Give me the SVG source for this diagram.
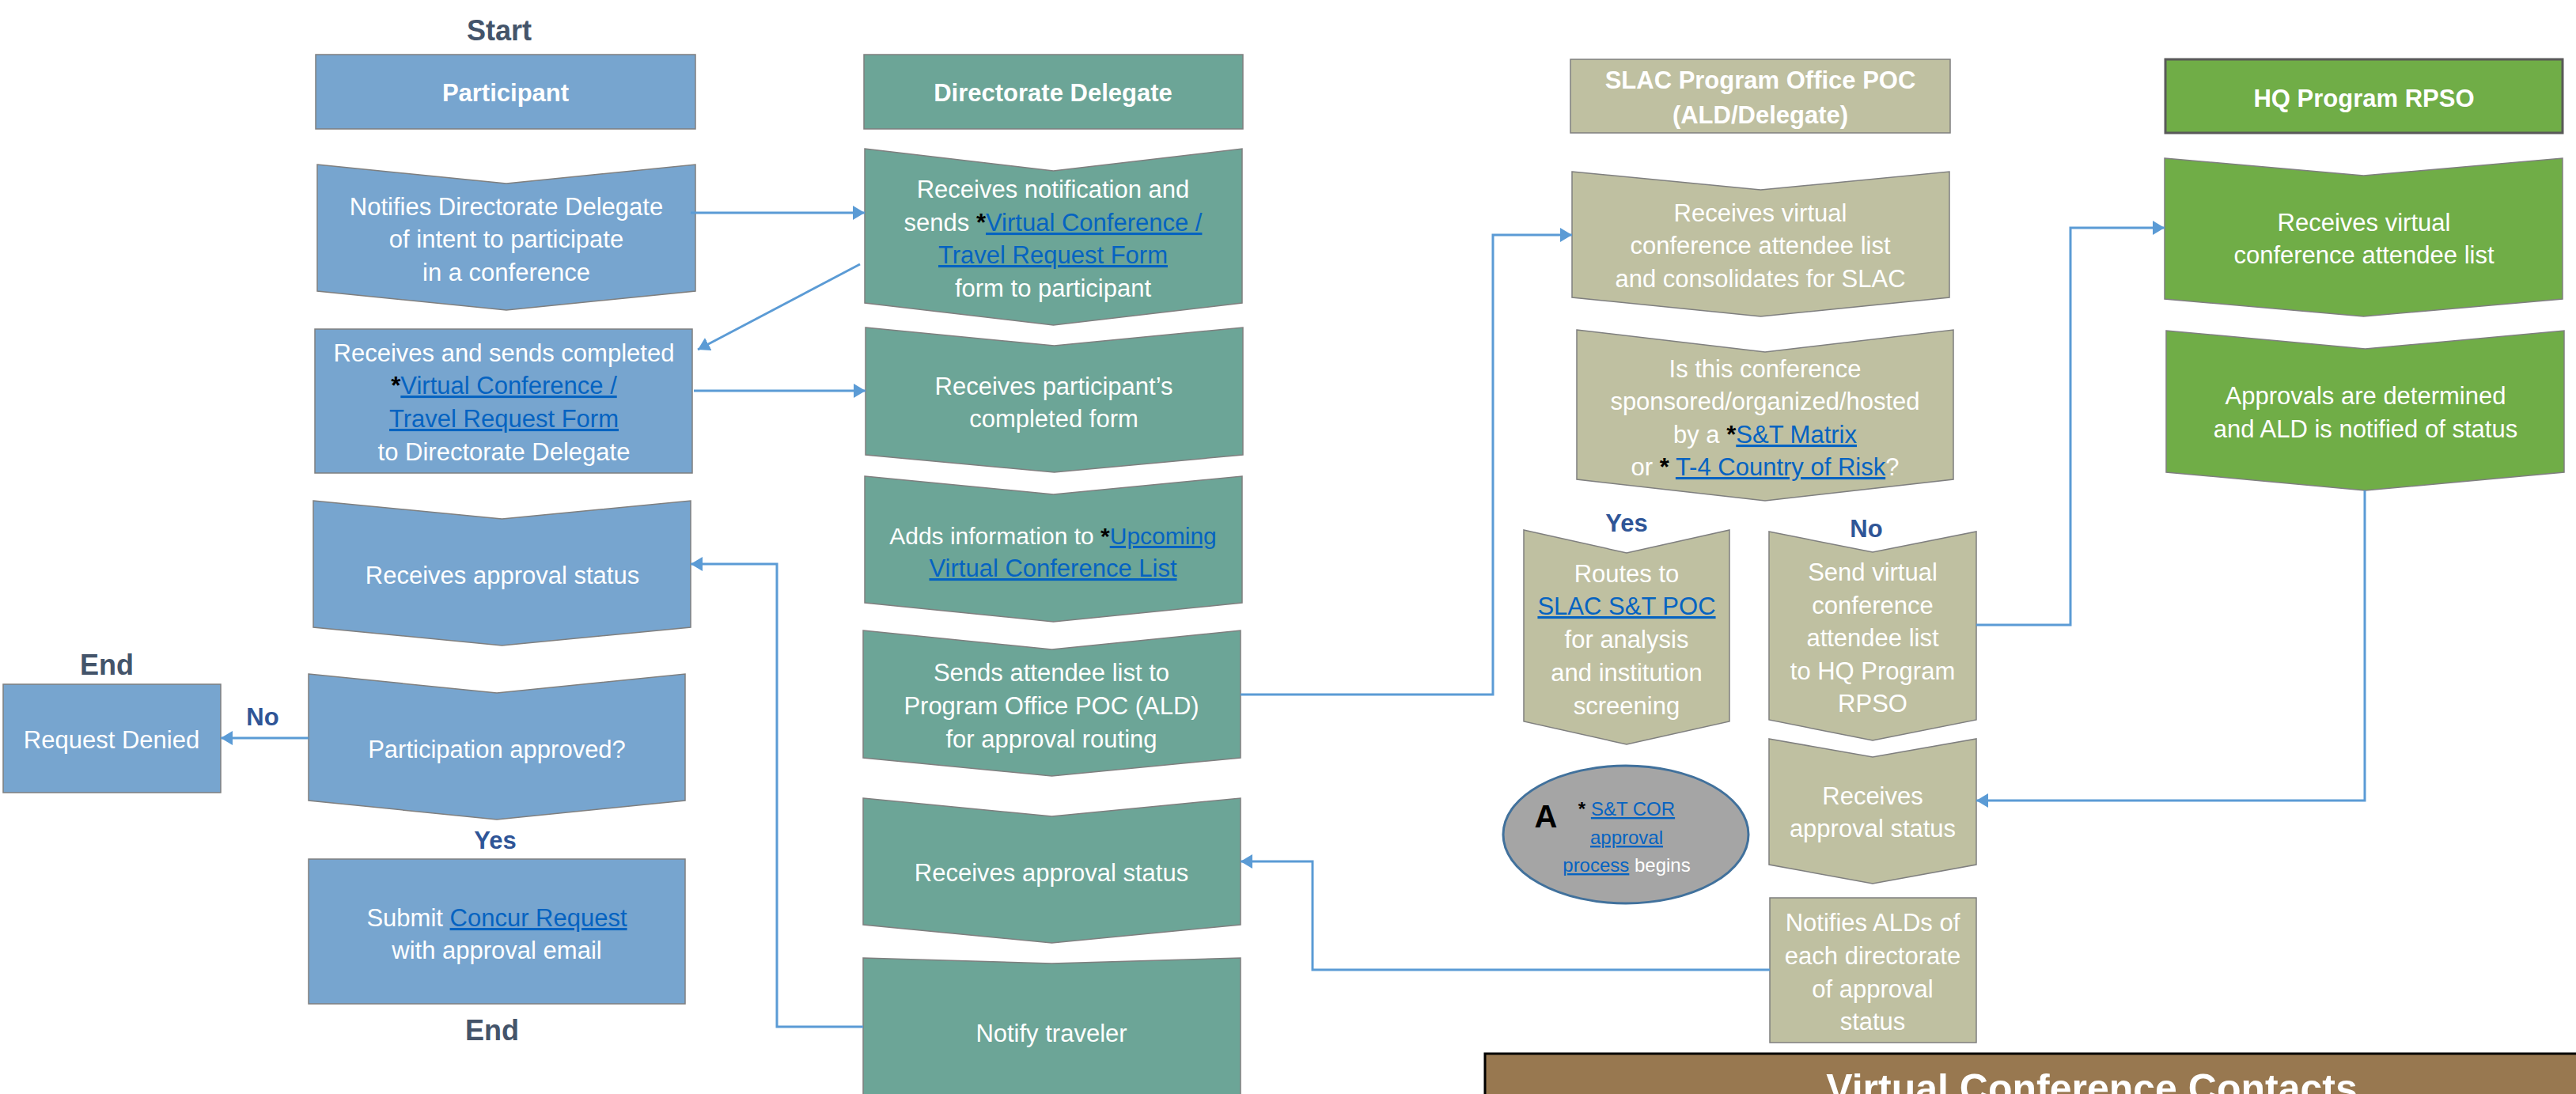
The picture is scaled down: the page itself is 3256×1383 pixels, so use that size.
<svg xmlns="http://www.w3.org/2000/svg" width="3256" height="1383" viewBox="0 0 3256 1383">
<defs>
<marker id="ah" markerUnits="userSpaceOnUse" markerWidth="16" markerHeight="18" refX="15" refY="9" orient="auto">
<path d="M0,0 L15,9 L0,18 Z" fill="#5B9BD5"/>
</marker>
<style>
.t{font-family:"Liberation Sans",Arial,sans-serif;font-size:31px;fill:#FFFFFF;text-anchor:middle}
.h{font-family:"Liberation Sans",Arial,sans-serif;font-size:31px;font-weight:bold;fill:#FFFFFF;text-anchor:middle}
.se{font-family:"Liberation Sans",Arial,sans-serif;font-size:36px;font-weight:bold;fill:#44546A;text-anchor:middle}
.yn{font-family:"Liberation Sans",Arial,sans-serif;font-size:31px;font-weight:bold;fill:#2F5597;text-anchor:middle}
.lk{fill:#0563C1;text-decoration:underline}
.ast{fill:#000000;font-weight:bold}
.blue{fill:#77A5CF;stroke:#7F7F7F;stroke-width:1.5}
.teal{fill:#6CA597;stroke:#7F7F7F;stroke-width:1.5}
.khaki{fill:#BFC0A1;stroke:#7F7F7F;stroke-width:1.5}
.green{fill:#70AD47;stroke:#7F7F7F;stroke-width:1.5}
.conn{fill:none;stroke:#5B9BD5;stroke-width:3}
</style>
</defs>
<rect x="0" y="0" width="3256" height="1383" fill="#FFFFFF"/>

<g id="labels">
<text class="se" x="631" y="51">Start</text>
<text class="se" x="135" y="853">End</text>
<text class="se" x="622" y="1315">End</text>
<text class="yn" x="332" y="917">No</text>
<text class="yn" x="626" y="1073">Yes</text>
<text class="yn" x="2056" y="672">Yes</text>
<text class="yn" x="2359" y="679">No</text>
</g>

<g id="participant-header">
<rect class="blue" x="399" y="69" width="480" height="94"/>
<text class="h" x="639" y="128">Participant</text>
</g>
<g id="p-notifies">
<path class="blue" d="M401 208 L640 232 L879 208 L879 368 L640 392 L401 368 Z"/>
<text class="t" x="640" y="272">Notifies Directorate Delegate</text>
<text class="t" x="640" y="313">of intent to participate</text>
<text class="t" x="640" y="355">in a conference</text>
</g>
<g id="p-sends-form">
<rect class="blue" x="398" y="416" width="477" height="182"/>
<text class="t" x="637" y="457">Receives and sends completed</text>
<text class="t" x="637" y="498"><tspan class="ast">*</tspan><tspan class="lk">Virtual Conference /</tspan></text>
<text class="t" x="637" y="540"><tspan class="lk">Travel Request Form</tspan></text>
<text class="t" x="637" y="582">to Directorate Delegate</text>
</g>
<g id="p-receives-status">
<path class="blue" d="M396 633 L634.5 656 L873 633 L873 793 L634.5 816 L396 793 Z"/>
<text class="t" x="635" y="738">Receives approval status</text>
</g>
<g id="p-approved">
<path class="blue" d="M390 852 L628 876 L866 852 L866 1012 L628 1036 L390 1012 Z"/>
<text class="t" x="628" y="958">Participation approved?</text>
</g>
<g id="p-denied">
<rect class="blue" x="4" y="865" width="275" height="137"/>
<text class="t" x="141" y="946">Request Denied</text>
</g>
<g id="p-concur">
<rect class="blue" x="390" y="1086" width="476" height="183"/>
<text class="t" x="628" y="1171">Submit <tspan class="lk">Concur Request</tspan></text>
<text class="t" x="628" y="1212">with approval email</text>
</g>

<g id="dd-header">
<rect class="teal" x="1092" y="69" width="479" height="94"/>
<text class="h" x="1331" y="128">Directorate Delegate</text>
</g>
<g id="dd-receives-notification">
<path class="teal" d="M1093 188 L1331.5 216 L1570 188 L1570 383 L1331.5 411 L1093 383 Z"/>
<text class="t" x="1331" y="250">Receives notification and</text>
<text class="t" x="1331" y="292">sends <tspan class="ast">*</tspan><tspan class="lk">Virtual Conference /</tspan></text>
<text class="t" x="1331" y="333"><tspan class="lk">Travel Request Form</tspan></text>
<text class="t" x="1331" y="375">form to participant</text>
</g>
<g id="dd-receives-form">
<path class="teal" d="M1094 414 L1332.5 437 L1571 414 L1571 575 L1332.5 597 L1094 575 Z"/>
<text class="t" x="1332" y="499">Receives participant’s</text>
<text class="t" x="1332" y="540">completed form</text>
</g>
<g id="dd-adds-info">
<path class="teal" d="M1093 602 L1331.5 625 L1570 602 L1570 762 L1331.5 786 L1093 762 Z"/>
<text class="t" x="1331" y="688" style="font-size:30px">Adds information to <tspan class="ast">*</tspan><tspan class="lk">Upcoming</tspan></text>
<text class="t" x="1331" y="729"><tspan class="lk">Virtual Conference List</tspan></text>
</g>
<g id="dd-sends-list">
<path class="teal" d="M1091 797 L1329.5 821 L1568 797 L1568 958 L1329.5 981 L1091 958 Z"/>
<text class="t" x="1329" y="861">Sends attendee list to</text>
<text class="t" x="1329" y="903">Program Office POC (ALD)</text>
<text class="t" x="1329" y="945">for approval routing</text>
</g>
<g id="dd-receives-status">
<path class="teal" d="M1091 1009 L1329.5 1032 L1568 1009 L1568 1169 L1329.5 1192 L1091 1169 Z"/>
<text class="t" x="1329" y="1114">Receives approval status</text>
</g>
<g id="dd-notify">
<path class="teal" d="M1091 1211 L1329.5 1218 L1568 1211 L1568 1400 L1091 1400 Z"/>
<text class="t" x="1329" y="1317">Notify traveler</text>
</g>

<g id="slac-header">
<rect class="khaki" x="1985" y="75" width="480" height="93"/>
<text class="h" x="2225" y="112">SLAC Program Office POC</text>
<text class="h" x="2225" y="156">(ALD/Delegate)</text>
</g>
<g id="slac-receives">
<path class="khaki" d="M1987 217 L2225.5 240 L2464 217 L2464 376 L2225.5 400 L1987 376 Z"/>
<text class="t" x="2225" y="280">Receives virtual</text>
<text class="t" x="2225" y="321">conference attendee list</text>
<text class="t" x="2225" y="363">and consolidates for SLAC</text>
</g>
<g id="slac-question">
<path class="khaki" d="M1993 417 L2231 445 L2469 417 L2469 606 L2231 633 L1993 606 Z"/>
<text class="t" x="2231" y="477">Is this conference</text>
<text class="t" x="2231" y="518">sponsored/organized/hosted</text>
<text class="t" x="2231" y="560">by a <tspan class="ast">*</tspan><tspan class="lk">S&amp;T Matrix</tspan></text>
<text class="t" x="2231" y="601">or <tspan class="ast">*</tspan> <tspan class="lk">T-4 Country of Risk</tspan>?</text>
</g>
<g id="slac-routes">
<path class="khaki" d="M1926 670 L2056 699 L2186 670 L2186 912 L2056 941 L1926 912 Z"/>
<text class="t" x="2056" y="736">Routes to</text>
<text class="t" x="2056" y="777"><tspan class="lk">SLAC S&amp;T POC</tspan></text>
<text class="t" x="2056" y="819">for analysis</text>
<text class="t" x="2056" y="861">and institution</text>
<text class="t" x="2056" y="903">screening</text>
</g>
<g id="slac-send">
<path class="khaki" d="M2236 672 L2367 698 L2498 672 L2498 910 L2367 936 L2236 910 Z"/>
<text class="t" x="2367" y="734">Send virtual</text>
<text class="t" x="2367" y="776">conference</text>
<text class="t" x="2367" y="817">attendee list</text>
<text class="t" x="2367" y="859">to HQ Program</text>
<text class="t" x="2367" y="900">RPSO</text>
</g>
<g id="slac-cor">
<ellipse cx="2055" cy="1055" rx="155" ry="87" fill="#A5A5A5" stroke="#41719C" stroke-width="3"/>
<text x="1954" y="1046" style="font-family:'Liberation Sans',Arial,sans-serif;font-size:40px;font-weight:bold;fill:#000000;text-anchor:middle">A</text>
<text class="t" x="2056" y="1031" style="font-size:24px"><tspan class="ast">*</tspan> <tspan class="lk">S&amp;T COR</tspan></text>
<text class="t" x="2056" y="1067" style="font-size:24px"><tspan class="lk">approval</tspan></text>
<text class="t" x="2056" y="1102" style="font-size:24px"><tspan class="lk">process</tspan> begins</text>
</g>
<g id="slac-receives-status">
<path class="khaki" d="M2236 934 L2367 957 L2498 934 L2498 1093 L2367 1117 L2236 1093 Z"/>
<text class="t" x="2367" y="1017">Receives</text>
<text class="t" x="2367" y="1058">approval status</text>
</g>
<g id="slac-notifies">
<rect class="khaki" x="2237" y="1135" width="261" height="183"/>
<text class="t" x="2367" y="1177">Notifies ALDs of</text>
<text class="t" x="2367" y="1219">each directorate</text>
<text class="t" x="2367" y="1261">of approval</text>
<text class="t" x="2367" y="1302">status</text>
</g>

<g id="hq-header">
<rect x="2737" y="75" width="502" height="93" fill="#70AD47" stroke="#595959" stroke-width="3"/>
<text class="h" x="2988" y="135">HQ Program RPSO</text>
</g>
<g id="hq-receives">
<path class="green" d="M2736 200 L2987.5 222 L3239 200 L3239 378 L2987.5 400 L2736 378 Z"/>
<text class="t" x="2988" y="292">Receives virtual</text>
<text class="t" x="2988" y="333">conference attendee list</text>
</g>
<g id="hq-approvals">
<path class="green" d="M2738 418 L2989.5 441 L3241 418 L3241 597 L2989.5 620 L2738 597 Z"/>
<text class="t" x="2990" y="511">Approvals are determined</text>
<text class="t" x="2990" y="553">and ALD is notified of status</text>
</g>

<g id="contacts">
<rect x="1877" y="1332" width="1390" height="70" fill="#987850" stroke="#000000" stroke-width="3"/>
<text x="2644" y="1393" style="font-family:'Liberation Sans',Arial,sans-serif;font-size:50px;font-weight:bold;fill:#FFFFFF;text-anchor:middle">Virtual Conference Contacts</text>
</g>

<g id="connectors">
<path class="conn" d="M873 269 H1093" marker-end="url(#ah)"/>
<path class="conn" d="M1087 334 L882 442" marker-end="url(#ah)"/>
<path class="conn" d="M877 494 H1094" marker-end="url(#ah)"/>
<path class="conn" d="M1568 878 H1887 V297 H1987" marker-end="url(#ah)"/>
<path class="conn" d="M2498 790 H2617 V288 H2736" marker-end="url(#ah)"/>
<path class="conn" d="M2989 620 V1012 H2498" marker-end="url(#ah)"/>
<path class="conn" d="M2237 1226 H1659 V1089 H1568" marker-end="url(#ah)"/>
<path class="conn" d="M1091 1298 H982 V713 H873" marker-end="url(#ah)"/>
<path class="conn" d="M390 933 H279" marker-end="url(#ah)"/>
</g>
</svg>
